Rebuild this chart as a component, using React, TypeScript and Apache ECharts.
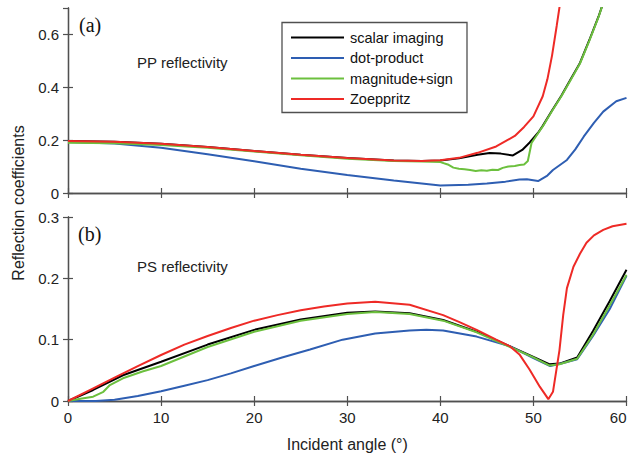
import React, { useEffect, useRef } from "react";
import * as echarts from "echarts";

// ---------- Data ----------
const seriesNames = ["scalar imaging", "dot-product", "magnitude+sign", "Zoeppritz"];
const xTicks = [0, 10, 20, 30, 40, 50, 60];

// PP reflectivity (panel a)
const ppScalarAngles = [0, 5, 10, 15, 20, 25, 30, 35, 38, 40, 42, 44, 45.3, 46.5, 47.8, 48.8, 49.6, 50.5, 51, 52, 53, 54, 55, 56, 57, 57.6];
const ppScalarValues = [0.197, 0.194, 0.186, 0.174, 0.159, 0.145, 0.132, 0.123, 0.121, 0.123, 0.131, 0.145, 0.151, 0.149, 0.142, 0.163, 0.191, 0.228, 0.254, 0.312, 0.368, 0.43, 0.492, 0.578, 0.668, 0.73];

const ppDotAngles = [0, 5, 10, 15, 20, 25, 30, 35, 40, 43, 45, 47, 48.5, 49.3, 50.5, 51.5, 52.1, 53.6, 54.5, 55.4, 56.5, 57.5, 58.9, 60];
const ppDotValues = [0.193, 0.187, 0.171, 0.147, 0.12, 0.092, 0.068, 0.047, 0.028, 0.031, 0.036, 0.043, 0.051, 0.052, 0.045, 0.066, 0.087, 0.125, 0.165, 0.213, 0.265, 0.308, 0.347, 0.36];

const ppMagAngles = [0, 5, 10, 15, 20, 25, 30, 35, 38, 40, 40.8, 41.4, 42, 42.6, 43.2, 43.8, 44.4, 45, 45.6, 46.2, 46.7, 47.3, 48, 48.5, 49, 49.4, 49.8, 50.5, 51, 52, 53, 54, 55, 56, 57, 57.6];
const ppMagValues = [0.19, 0.188, 0.182, 0.171, 0.157, 0.143, 0.13, 0.121, 0.119, 0.117, 0.108, 0.096, 0.092, 0.09, 0.087, 0.083, 0.086, 0.084, 0.088, 0.087, 0.095, 0.1, 0.102, 0.106, 0.108, 0.121, 0.189, 0.226, 0.252, 0.31, 0.366, 0.428, 0.49, 0.576, 0.666, 0.73];

const ppZoeAngles = [0, 5, 10, 15, 20, 25, 30, 35, 38, 40, 42, 44, 46, 48, 49, 50, 51, 51.5, 52, 52.5, 53, 53.5];
const ppZoeValues = [0.197, 0.194, 0.186, 0.174, 0.159, 0.145, 0.132, 0.123, 0.121, 0.124, 0.133, 0.152, 0.176, 0.216, 0.25, 0.29, 0.366, 0.43, 0.52, 0.632, 0.75, 0.9];

// PS reflectivity (panel b)
const psScalarAngles = [0, 2.7, 5.9, 10, 15, 20, 25, 30, 33, 36.7, 40.3, 43.9, 47.5, 50, 51.7, 52.8, 54.7, 56.4, 58.2, 60];
const psScalarValues = [0, 0.018, 0.042, 0.064, 0.092, 0.116, 0.133, 0.144, 0.146, 0.143, 0.132, 0.113, 0.089, 0.072, 0.06, 0.061, 0.071, 0.114, 0.163, 0.214];

const psDotAngles = [0, 3, 5, 7.5, 10, 12.5, 15, 17.5, 20, 23, 26, 29.5, 33, 36.7, 38.5, 40.3, 43.9, 47.5, 50, 51.8, 53, 54.7, 56.4, 58.2, 60];
const psDotValues = [0, 0, 0.002, 0.008, 0.016, 0.025, 0.034, 0.045, 0.057, 0.071, 0.084, 0.1, 0.11, 0.115, 0.116, 0.115, 0.105, 0.089, 0.07, 0.057, 0.061, 0.068, 0.106, 0.15, 0.204];

const psMagAngles = [0, 1.5, 2.7, 3.8, 4.5, 5.9, 8, 10, 15, 20, 25, 30, 33, 36.7, 40.3, 43.9, 47.5, 50, 51.7, 52.8, 54.7, 56.4, 58.2, 60];
const psMagValues = [0, 0.004, 0.007, 0.015, 0.026, 0.037, 0.048, 0.057, 0.088, 0.113, 0.131, 0.142, 0.145, 0.142, 0.131, 0.112, 0.088, 0.071, 0.058, 0.06, 0.069, 0.108, 0.156, 0.206];

const psZoeAngles = [0, 2.5, 5, 7.5, 10, 12.5, 15, 17.5, 20, 22.5, 25, 27.5, 30, 33, 36.7, 40.3, 42, 43.9, 46, 47.5, 48.5, 49.6, 50.7, 51.2, 51.6, 52.1, 52.8, 53.2, 53.6, 54.3, 55, 55.7, 56.5, 57.5, 58.5, 60];
const psZoeValues = [0, 0.019, 0.038, 0.057, 0.075, 0.092, 0.106, 0.119, 0.131, 0.14, 0.148, 0.154, 0.159, 0.162, 0.157, 0.14, 0.129, 0.116, 0.1, 0.089, 0.076, 0.051, 0.023, 0.012, 0.003, 0.015, 0.083, 0.14, 0.184, 0.219, 0.24, 0.258, 0.27, 0.279, 0.285, 0.289];

const colors = ["#000000", "#2e5eb2", "#6cc03e", "#ee2a26"];

const ppAngles = [ppScalarAngles, ppDotAngles, ppMagAngles, ppZoeAngles];
const ppValues = [ppScalarValues, ppDotValues, ppMagValues, ppZoeValues];
const psAngles = [psScalarAngles, psDotAngles, psMagAngles, psZoeAngles];
const psValues = [psScalarValues, psDotValues, psMagValues, psZoeValues];

const FONT = "'Liberation Sans', Arial, sans-serif";
const FRAME = "#505050";

function pairs(xs: number[], ys: number[]) {
  return xs.map((x, i) => [x, ys[i]]);
}

export default function App() {
  const ref = useRef<HTMLDivElement>(null);

  useEffect(() => {
    if (!ref.current) return;
    const chart = echarts.init(ref.current, undefined, { renderer: "svg" });

    const axisLine = { show: true, lineStyle: { color: FRAME, width: 1.3 } };
    const tickIn = { show: true, inside: true, length: 5, lineStyle: { color: FRAME, width: 1.2 } };
    const label = { color: "#222", fontSize: 15, fontFamily: FONT, margin: 9 };

    const xBase = { type: "value", min: 0, max: 60, interval: 10, splitLine: { show: false }, axisLine, axisTick: tickIn };

    const series: any[] = [];
    [0, 1].forEach((g) => {
      const A = g === 0 ? ppAngles : psAngles;
      const V = g === 0 ? ppValues : psValues;
      [0, 1, 2, 3].forEach((k) => {
        series.push({
          name: seriesNames[k],
          type: "line",
          xAxisIndex: g * 2,
          yAxisIndex: g * 2,
          data: pairs(A[k], V[k]),
          symbol: "none",
          clip: true,
          lineStyle: { color: colors[k], width: 2 },
          itemStyle: { color: colors[k] },
          z: 2 + k,
        });
      });
    });

    chart.setOption({
      animation: false,
      backgroundColor: "#ffffff",
      grid: [
        { left: 68, top: 8, width: 558.5, height: 185, outerBoundsMode: "none", containLabel: false },
        { left: 68, top: 217, width: 558.5, height: 184, outerBoundsMode: "none", containLabel: false },
      ],
      xAxis: [
        { ...xBase, gridIndex: 0, position: "bottom", axisLabel: { show: false } },
        { ...xBase, gridIndex: 0, position: "top", axisLabel: { show: false } },
        {
          ...xBase,
          gridIndex: 1,
          position: "bottom",
          axisLabel: { ...label, showMinLabel: true, showMaxLabel: true, alignMaxLabel: "right" },
          name: "Incident angle (°)",
          nameLocation: "middle",
          nameGap: 35,
          nameTextStyle: { color: "#222", fontSize: 16, fontFamily: FONT },
        },
        { ...xBase, gridIndex: 1, position: "top", axisLabel: { show: false } },
      ],
      yAxis: [
        {
          type: "value", gridIndex: 0, position: "left", min: 0, max: 0.7, interval: 0.2,
          splitLine: { show: false }, axisLine, axisTick: tickIn,
          axisLabel: { ...label, showMaxLabel: false, formatter: (v: number) => (v === 0 ? "0" : v.toFixed(1)) },
        },
        {
          type: "value", gridIndex: 0, position: "right", min: 0, max: 0.7, interval: 0.2,
          splitLine: { show: false }, axisLine, axisTick: tickIn, axisLabel: { show: false },
        },
        {
          type: "value", gridIndex: 1, position: "left", min: 0, max: 0.3, interval: 0.1,
          splitLine: { show: false }, axisLine, axisTick: tickIn,
          axisLabel: { ...label, formatter: (v: number) => (v === 0 ? "0" : v.toFixed(1)) },
        },
        {
          type: "value", gridIndex: 1, position: "right", min: 0, max: 0.3, interval: 0.1,
          splitLine: { show: false }, axisLine, axisTick: tickIn, axisLabel: { show: false },
        },
      ],
      legend: {
        data: seriesNames,
        orient: "vertical",
        left: 291,
        top: 27.5,
        padding: 0,
        itemGap: 0.5,
        itemWidth: 53,
        itemHeight: 2,
        icon: "rect",
        textStyle: { color: "#111", fontSize: 14.5, fontFamily: FONT, lineHeight: 20, padding: [0, 0, 0, 1] },
        selectedMode: false,
      },
      graphic: [
        {
          type: "rect",
          shape: { x: 282, y: 22.5, width: 185, height: 90 },
          style: { fill: "none", stroke: FRAME, lineWidth: 1.3 },
          z: 10,
        },
        {
          type: "text", x: 79, y: 25,
          style: { text: "(a)", font: "20px 'Liberation Serif', 'Times New Roman', serif", fill: "#111", verticalAlign: "middle" },
        },
        {
          type: "text", x: 78, y: 234,
          style: { text: "(b)", font: "20px 'Liberation Serif', 'Times New Roman', serif", fill: "#111", verticalAlign: "middle" },
        },
        {
          type: "text", x: 137, y: 62,
          style: { text: "PP reflectivity", font: `15px ${FONT}`, fill: "#222", verticalAlign: "middle" },
        },
        {
          type: "text", x: 137, y: 266,
          style: { text: "PS reflectivity", font: `15px ${FONT}`, fill: "#222", verticalAlign: "middle" },
        },
        {
          type: "text", x: 18, y: 203, rotation: Math.PI / 2,
          style: { text: "Reflection coefficients", font: `16px ${FONT}`, fill: "#222", align: "center", verticalAlign: "middle" },
        },
      ],
      series,
    });

    return () => chart.dispose();
  }, []);

  return (
    <div
      ref={ref}
      style={{ position: "fixed", left: 0, top: 0, width: 629, height: 454, background: "#fff" }}
    />
  );
}
